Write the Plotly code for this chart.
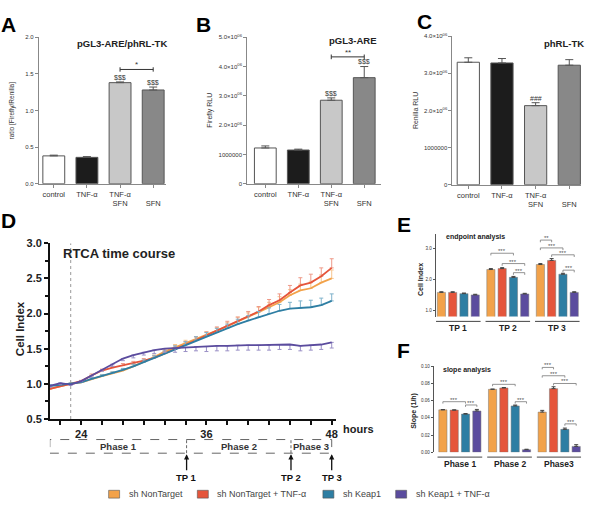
import plotly.graph_objects as go

# ---------------------------- Data ---------------------------- #

ABC_LABELS = ["control", "TNF-α", "TNF-α<br>SFN", "<br>SFN"]
ABC_COLORS = ["#ffffff", "#1c1c1c", "#c8c8c8", "#888888"]

RATIO = [0.38, 0.36, 1.38, 1.28]
RATIO_ERR = [0.01, 0.01, 0.01, 0.04]

FIREFLY = [1.22e6, 1.15e6, 2.85e6, 3.62e6]
FIREFLY_ERR = [0.07e6, 0.03e6, 0.08e6, 0.38e6]

RENILLA = [3.30e6, 3.28e6, 2.13e6, 3.22e6]
RENILLA_ERR = [0.12e6, 0.12e6, 0.08e6, 0.15e6]

SERIES = ["sh NonTarget", "sh NonTarget + TNF-α", "sh Keap1", "sh Keap1 + TNF-α"]
COLORS = ["#f2a24a", "#e5553b", "#2e7ea3", "#5b4c9e"]
ERR_COLORS = ["#f6c58e", "#ee9a88", "#7fb2cb", "#9a90c6"]

HOURS = list(range(21, 49))
CI_NT = [0.93, 0.97, 1.00, 1.02, 1.07, 1.11, 1.15, 1.19, 1.25, 1.31, 1.38, 1.46, 1.52, 1.58,
         1.63, 1.69, 1.75, 1.82, 1.89, 1.95, 2.02, 2.09, 2.16, 2.26, 2.33, 2.36, 2.44, 2.50]
CI_NT_TNF = [0.93, 0.97, 1.00, 1.04, 1.12, 1.19, 1.23, 1.26, 1.29, 1.33, 1.37, 1.43, 1.50, 1.56,
             1.62, 1.69, 1.76, 1.83, 1.89, 1.96, 2.03, 2.12, 2.19, 2.30, 2.40, 2.44, 2.53, 2.65]
CI_KEAP = [0.97, 0.99, 1.00, 1.02, 1.07, 1.11, 1.15, 1.20, 1.25, 1.31, 1.37, 1.44, 1.50, 1.56,
           1.62, 1.68, 1.73, 1.79, 1.85, 1.90, 1.95, 2.00, 2.04, 2.07, 2.08, 2.09, 2.12, 2.18]
CI_KEAP_TNF = [0.97, 1.01, 0.99, 1.04, 1.12, 1.20, 1.28, 1.36, 1.41, 1.45, 1.48, 1.50, 1.51, 1.52,
               1.53, 1.53, 1.54, 1.54, 1.55, 1.55, 1.55, 1.55, 1.56, 1.56, 1.54, 1.55, 1.56, 1.59]
CI_ERR_NT = [0.02, 0.02, 0.01, 0.01, 0.02, 0.02, 0.02, 0.02, 0.03, 0.03, 0.03, 0.03, 0.04, 0.04,
             0.04, 0.05, 0.05, 0.05, 0.06, 0.06, 0.07, 0.07, 0.08, 0.08, 0.09, 0.10, 0.11, 0.12]
CI_ERR_NT_TNF = [0.02, 0.02, 0.01, 0.01, 0.02, 0.02, 0.02, 0.03, 0.03, 0.03, 0.03, 0.04, 0.04, 0.04,
                 0.05, 0.05, 0.05, 0.06, 0.06, 0.07, 0.07, 0.08, 0.09, 0.10, 0.11, 0.12, 0.12, 0.13]
CI_ERR_KEAP = [0.02, 0.02, 0.01, 0.01, 0.02, 0.02, 0.02, 0.02, 0.03, 0.03, 0.03, 0.03, 0.04, 0.04,
               0.05, 0.05, 0.06, 0.06, 0.07, 0.07, 0.08, 0.08, 0.09, 0.09, 0.10, 0.10, 0.10, 0.10]
CI_ERR_KEAP_TNF = [0.02, 0.02, 0.01, 0.01, 0.02, 0.02, 0.03, 0.03, 0.04, 0.04, 0.05, 0.05, 0.06, 0.06,
                   0.06, 0.07, 0.07, 0.07, 0.07, 0.07, 0.07, 0.07, 0.07, 0.07, 0.07, 0.07, 0.07, 0.08]

PHASE_BOUNDS = [21, 34.1, 44.1, 48]
D_PHASES = ["Phase 1", "Phase 2", "Phase 3"]
TP_LABELS = ["TP 1", "TP 2", "TP 3"]

ENDPOINT = [[1.59, 2.32, 2.48], [1.59, 2.35, 2.61], [1.55, 2.07, 2.17], [1.51, 1.54, 1.59]]
ENDPOINT_ERR = [[0.02, 0.03, 0.03], [0.02, 0.03, 0.06], [0.02, 0.03, 0.03], [0.02, 0.02, 0.02]]

F_PHASES = ["Phase 1", "Phase 2", "Phase3"]
SLOPE = [[0.0493, 0.0732, 0.0467], [0.0490, 0.0748, 0.0740],
         [0.0444, 0.0539, 0.0266], [0.0480, 0.0030, 0.0068]]
SLOPE_ERR = [[0.0004, 0.0003, 0.0020], [0.0003, 0.0005, 0.0022],
             [0.0006, 0.0010, 0.0015], [0.0018, 0.0005, 0.0020]]

# (group, bar i, bar j, height, label)
E_SIG = [(1, 0, 2, 2.84, "***"), (1, 1, 3, 2.51, "***"), (1, 2, 3, 2.22, "***"),
         (2, 0, 1, 3.26, "**"), (2, 0, 2, 3.01, "***"), (2, 1, 3, 2.79, "***"), (2, 2, 3, 2.30, "***")]
F_SIG = [(0, 0, 2, 0.0588, "***"), (0, 2, 3, 0.055, "***"),
         (1, 0, 2, 0.079, "***"), (1, 2, 3, 0.0588, "***"),
         (2, 0, 1, 0.0987, "***"), (2, 0, 2, 0.089, "***"), (2, 1, 3, 0.080, "***"), (2, 2, 3, 0.033, "***")]

# ---------------------------- Layout helpers ---------------------------- #

W, H = 600, 509
FONT = "Liberation Sans, Arial, sans-serif"
STEP = 0.228   # spacing of bars inside a group (E/F)
BW = 0.165     # bar width (E/F)


def px(x):
    return x / W


def py(y):
    return 1 - y / H


def bar_x(g, i):
    return g + (i - 1.5) * STEP


fig = go.Figure()
shapes = []
annotations = []


def note(text, x, y, size, bold=False, color="#222", **kw):
    kw.setdefault("xanchor", "center")
    kw.setdefault("yanchor", "middle")
    annotations.append(dict(
        text=text, x=x, y=y, xref=kw.pop("xref", "paper"), yref=kw.pop("yref", "paper"),
        showarrow=False, font=dict(family=FONT, size=size, color=color,
                                   weight="bold" if bold else "normal"),
        **kw))


# ---------------------------- Panels A, B, C ---------------------------- #

abc = [
    ("x", "y", RATIO, RATIO_ERR),
    ("x2", "y2", FIREFLY, FIREFLY_ERR),
    ("x3", "y3", RENILLA, RENILLA_ERR),
]
for xa, ya, vals, errs in abc:
    fig.add_trace(go.Bar(
        x=[0, 1, 2, 3], y=vals, width=0.66, xaxis=xa, yaxis=ya, showlegend=False,
        marker=dict(color=ABC_COLORS, line=dict(color="#555", width=1)),
        error_y=dict(type="data", array=errs, arrayminus=[0] * 4, symmetric=False,
                     color="#555", thickness=1, width=4),
    ))

abc_x = dict(tickvals=[0, 1, 2, 3], ticktext=ABC_LABELS, showline=True, linecolor="#888",
             ticks="outside", ticklen=3, tickcolor="#888", showgrid=False, zeroline=False,
             tickfont=dict(family=FONT, size=7.5, color="#333"))
abc_y = dict(showline=True, linecolor="#888", ticks="outside", ticklen=3, tickcolor="#888",
             showgrid=False, zeroline=False, tickfont=dict(family=FONT, size=6, color="#333"))


def sci(v):
    return f"{v:.1f}×10<sup>06</sup>"


# ---------------------------- Panel D ---------------------------- #

d_series = [(CI_NT, CI_ERR_NT), (CI_NT_TNF, CI_ERR_NT_TNF), (CI_KEAP, CI_ERR_KEAP),
            (CI_KEAP_TNF, CI_ERR_KEAP_TNF)]
for k, (vals, errs) in enumerate(d_series):
    down = k == 3
    fig.add_trace(go.Scatter(
        x=HOURS, y=vals, mode="lines", xaxis="x4", yaxis="y4", showlegend=False,
        line=dict(color=COLORS[k], width=1.8),
        error_y=dict(type="data", symmetric=False,
                     array=[0] * len(errs) if down else errs,
                     arrayminus=errs if down else [0] * len(errs),
                     color=ERR_COLORS[k], thickness=1, width=2),
    ))

d_ticks = list(range(22, 49, 2))
d_text = [str(t) if t in (24, 36, 48) else "" for t in d_ticks]

shapes.append(dict(type="line", xref="x4", yref="y4", x0=23, x1=23, y0=0.5, y1=3.0,
                   line=dict(color="#999", width=1, dash="dot")))

# phase boxes under the time course
box_top, box_bot = py(444), py(458)
shapes.append(dict(type="rect", xref="x4", yref="paper", x0=PHASE_BOUNDS[0], x1=PHASE_BOUNDS[-1],
                   y0=box_bot, y1=box_top, line=dict(color="#666", width=1, dash="dash")))
for b in PHASE_BOUNDS[1:-1]:
    shapes.append(dict(type="line", xref="x4", yref="paper", x0=b, x1=b, y0=box_bot, y1=box_top,
                       line=dict(color="#666", width=1, dash="3px,2px")))
for k, name in enumerate(D_PHASES):
    note(name, (PHASE_BOUNDS[k] + PHASE_BOUNDS[k + 1]) / 2, py(451), 9.5, True, "#333",
         xref="x4")
for k, tp in enumerate(TP_LABELS):
    annotations.append(dict(
        text=tp, x=PHASE_BOUNDS[k + 1], y=py(459), xref="x4", yref="paper",
        showarrow=True, arrowhead=2, arrowsize=0.8, arrowwidth=1.3, arrowcolor="#111",
        ax=0, ay=23, font=dict(family=FONT, size=9.5, color="#111", weight="bold")))

note("RTCA time course", 22.1, 2.86, 13, True, "#222", xref="x4", yref="y4", xanchor="left")
note("hours", px(342), py(433), 11, True, "#222", xanchor="left")
note("Cell Index", px(20), py(330), 11.5, True, "#222", textangle=-90)

# ---------------------------- Panels E, F ---------------------------- #

for k in range(4):
    fig.add_trace(go.Bar(
        x=[0, 1, 2], y=ENDPOINT[k], base=0, offset=(k - 1.5) * STEP - BW / 2, width=BW,
        xaxis="x5", yaxis="y5", showlegend=False,
        marker=dict(color=COLORS[k], line=dict(color="#777", width=0.5)),
        error_y=dict(type="data", array=ENDPOINT_ERR[k], arrayminus=[0] * 3, symmetric=False,
                     color="#444", thickness=1, width=2),
    ))
    fig.add_trace(go.Bar(
        x=[0, 1, 2], y=SLOPE[k], offset=(k - 1.5) * STEP - BW / 2, width=BW,
        xaxis="x6", yaxis="y6", showlegend=False,
        marker=dict(color=COLORS[k], line=dict(color="#777", width=0.5)),
        error_y=dict(type="data", array=SLOPE_ERR[k], arrayminus=[0] * 3, symmetric=False,
                     color="#444", thickness=1, width=2),
    ))


def brackets(sig, xa, ya, tick, size=6):
    for g, i, j, h, lab in sig:
        x0, x1 = bar_x(g, i), bar_x(g, j)
        for seg in ((x0, h, x1, h), (x0, h, x0, h - tick), (x1, h, x1, h - tick)):
            shapes.append(dict(type="line", xref=xa, yref=ya, x0=seg[0], y0=seg[1],
                               x1=seg[2], y1=seg[3], line=dict(color="#777", width=0.8)))
        note(lab, (x0 + x1) / 2, h, size, False, "#555", xref=xa, yref=ya, yanchor="bottom",
             yshift=-3)


brackets(E_SIG, "x5", "y5", 0.07)
brackets(F_SIG, "x6", "y6", 0.0022)

for g in range(3):
    shapes.append(dict(type="line", xref="x5", yref="paper", x0=g - 0.45, x1=g + 0.45,
                       y0=py(323), y1=py(323), line=dict(color="#444", width=1)))
    note(TP_LABELS[g], g, py(330), 8.5, True, "#222", xref="x5")
    shapes.append(dict(type="line", xref="x6", yref="paper", x0=g - 0.45, x1=g + 0.45,
                       y0=py(462), y1=py(462), line=dict(color="#444", width=1)))
    note(F_PHASES[g], g, py(469), 8.5, True, "#222", xref="x6")

note("endpoint analysis", px(445), py(237), 7, True, "#222", xanchor="left")
note("slope analysis", px(442), py(373), 7, True, "#222", xanchor="left")
note("Cell Index", px(422), py(280), 7, True, "#222", textangle=-90)
note("Slope (1/h)", px(416), py(415), 7, True, "#222", textangle=-90)

# ---------------------------- A/B/C text ---------------------------- #

note("pGL3-ARE/phRL-TK", px(170), py(38), 9.5, True, "#222", xanchor="right")
note("pGL3-ARE", px(380), py(35), 9.5, True, "#222", xanchor="right")
note("phRL-TK", px(588), py(38), 9.5, True, "#222", xanchor="right")
note("ratio [Firefly/Renilla]", px(13), py(107), 6.5, False, "#333", textangle=-90)
note("Firefly RLU", px(211), py(107), 7, False, "#333", textangle=-90)
note("Renilla RLU", px(417), py(107), 7, False, "#333", textangle=-90)

sig_abc = [("x", "y", RATIO, RATIO_ERR, 0.03), ("x2", "y2", FIREFLY, FIREFLY_ERR, 0.08e6)]
for xa, ya, vals, errs, pad in sig_abc:
    for k in (2, 3):
        note("$$$", k, vals[k] + errs[k] + pad, 7, False, "#333", xref=xa, yref=ya,
             yanchor="bottom", yshift=-3)
note("###", 2, RENILLA[2] + RENILLA_ERR[2] + 0.05e6, 7, False, "#333", xref="x3", yref="y3",
     yanchor="bottom", yshift=-3)

for xa, ya, h, tick, lab in (("x", "y", 1.56, 0.03, "*"), ("x2", "y2", 4.33e6, 0.08e6, "**")):
    for seg in ((2, h, 3, h), (2, h - tick, 2, h + tick), (3, h - tick, 3, h + tick)):
        shapes.append(dict(type="line", xref=xa, yref=ya, x0=seg[0], y0=seg[1], x1=seg[2],
                           y1=seg[3], line=dict(color="#333", width=1)))
    note(lab, 2.5, h, 8, False, "#333", xref=xa, yref=ya, yanchor="bottom", yshift=-2)

# panel letters
for lab, x, y in (("A", 9, 19), ("B", 204, 19), ("C", 426, 16), ("D", 9, 220),
                  ("E", 405, 224), ("F", 405, 353)):
    note(lab, px(x), py(y), 21, True, "#000")

# manual legend
leg_x = [109, 198, 324, 397]
for k, name in enumerate(SERIES):
    shapes.append(dict(type="rect", xref="paper", yref="paper", x0=px(leg_x[k]),
                       x1=px(leg_x[k] + 11), y0=py(504), y1=py(496),
                       fillcolor=COLORS[k], line=dict(color="#555", width=0.6)))
    note(name, px(leg_x[k] + 18), py(500), 9, False, "#444", xanchor="left")

# ---------------------------- Axes ---------------------------- #

ef_x = dict(showline=False, showticklabels=False, ticks="", showgrid=False, zeroline=False)
ef_y = dict(showline=True, linecolor="#555", ticks="outside", ticklen=2, tickcolor="#555",
            showgrid=False, zeroline=False, tickfont=dict(family=FONT, size=4.5, color="#333"))

fig.update_layout(
    width=W, height=H, margin=dict(l=0, r=0, t=0, b=0),
    paper_bgcolor="white", plot_bgcolor="white", barmode="overlay",
    font=dict(family=FONT),
    xaxis=dict(domain=[px(39), px(167)], anchor="y", range=[-0.45, 3.4], **abc_x),
    yaxis=dict(domain=[py(182), py(32)], anchor="x", range=[0, 2.0],
               tickvals=[0, 0.5, 1, 1.5, 2], ticktext=["0.0", "0.5", "1.0", "1.5", "2.0"], **abc_y),
    xaxis2=dict(domain=[px(248), px(382)], anchor="y2", range=[-0.55, 3.5], **abc_x),
    yaxis2=dict(domain=[py(182), py(32)], anchor="x2", range=[0, 5e6],
                tickvals=[0, 1e6, 2e6, 3e6, 4e6, 5e6],
                ticktext=["0", "1000000", sci(2), sci(3), sci(4), sci(5)], **abc_y),
    xaxis3=dict(domain=[px(454), px(583)], anchor="y3", range=[-0.47, 3.35], **abc_x),
    yaxis3=dict(domain=[py(183), py(31)], anchor="x3", range=[0, 4e6],
                tickvals=[0, 1e6, 2e6, 3e6, 4e6],
                ticktext=["0", "1000000", sci(2), sci(3), sci(4)], **abc_y),
    xaxis4=dict(domain=[px(50), px(337)], anchor="y4", range=[21, 48.4],
                tickvals=d_ticks, ticktext=d_text, showline=True, linecolor="#111",
                linewidth=1.5, ticks="outside", ticklen=4, tickcolor="#111", tickwidth=1.5,
                showgrid=False, zeroline=False,
                tickfont=dict(family=FONT, size=11, color="#222", weight="bold")),
    yaxis4=dict(domain=[py(423), py(243)], anchor="x4", range=[0.5, 3.0], tick0=0.5, dtick=0.5,
                tickformat=".1f", showline=True, linecolor="#111", linewidth=1.5,
                ticks="outside", ticklen=4, tickcolor="#111", tickwidth=1.5,
                minor=dict(dtick=0.25, tick0=0.5, ticks="outside", ticklen=3, tickcolor="#111"),
                showgrid=False, zeroline=False,
                tickfont=dict(family=FONT, size=11, color="#222", weight="bold")),
    xaxis5=dict(domain=[px(437), px(583)], anchor="y5", range=[-0.46, 2.48], **ef_x),
    yaxis5=dict(domain=[py(318), py(233)], anchor="x5", range=[0.82, 3.47],
                tickvals=[1, 2, 3], ticktext=["1.0", "2.0", "3.0"], **ef_y),
    xaxis6=dict(domain=[px(435), px(583)], anchor="y6", range=[-0.53, 2.44], **ef_x),
    yaxis6=dict(domain=[py(457), py(369)], anchor="x6", range=[0, 0.10],
                tickvals=[0, 0.02, 0.04, 0.06, 0.08, 0.10],
                ticktext=["0.00", "0.02", "0.04", "0.06", "0.08", "0.10"], **ef_y),
    shapes=shapes,
    annotations=annotations,
)

fig.write_html("out.html", config={"displayModeBar": False},
               post_script="document.body.style.margin = '0';")
